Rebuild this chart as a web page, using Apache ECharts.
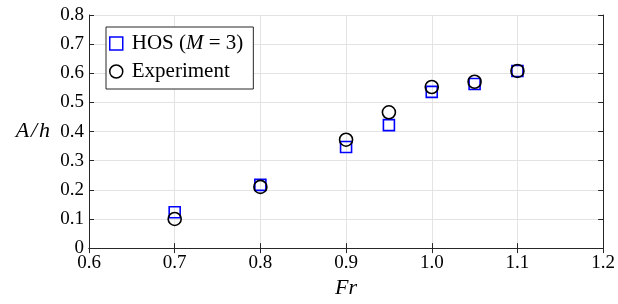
<!DOCTYPE html>
<html>
<head>
<meta charset="utf-8">
<script src="https://cdn.jsdelivr.net/npm/echarts@6/dist/echarts.min.js"></script>
<style>
  html, body { margin: 0; padding: 0; background: #fff; }
  #chart { width: 618px; height: 304px; }
</style>
</head>
<body>
<div id="chart"></div>
<script>
var frValues = [0.7, 0.8, 0.9, 0.95, 1.0, 1.05, 1.1];
var hosValues = [0.123, 0.217, 0.347, 0.422, 0.536, 0.563, 0.608];
var expValues = [0.100, 0.210, 0.372, 0.466, 0.553, 0.571, 0.608];
var xTicks = ["0.6", "0.7", "0.8", "0.9", "1.0", "1.1", "1.2"];

var chart = echarts.init(document.getElementById("chart"));
var font = "Liberation Serif";

function pairs(xs, ys) {
  return xs.map(function (x, i) { return [x, ys[i]]; });
}

var axisLine = { show: true, lineStyle: { color: "#262626", width: 1 } };
var axisTick = { show: true, inside: true, length: 5, lineStyle: { color: "#262626" } };

var option = {
  animation: false,
  grid: { left: 89, top: 15, right: 13, bottom: 54, containLabel: false },
  xAxis: [
    {
      type: "value", min: 0.6, max: 1.2, interval: 0.1, position: "bottom",
      axisLine: axisLine, axisTick: axisTick,
      axisLabel: {
        margin: 5, fontFamily: font, fontSize: 19, color: "#000",
        formatter: function (v) { return xTicks[Math.round((v - 0.6) * 10)]; }
      },
      splitLine: { show: true, lineStyle: { color: "#e3e3e3" } },
      name: "Fr", nameLocation: "middle", nameGap: 27,
      nameTextStyle: { fontFamily: font, fontSize: 22, fontStyle: "italic", color: "#000" }
    },
    {
      type: "value", min: 0.6, max: 1.2, interval: 0.1, position: "top",
      axisLine: axisLine, axisTick: axisTick, axisLabel: { show: false },
      splitLine: { show: false }
    }
  ],
  yAxis: [
    {
      type: "value", min: 0, max: 0.8, interval: 0.1, position: "left",
      axisLine: axisLine, axisTick: axisTick,
      axisLabel: {
        margin: 5, fontFamily: font, fontSize: 19, color: "#000",
        formatter: function (v) { return v === 0 ? "0" : v.toFixed(1); }
      },
      splitLine: { show: true, lineStyle: { color: "#e3e3e3" } },
      name: "A\u200A/\u200Ah", nameLocation: "middle", nameRotate: 0, nameGap: 39,
      nameTextStyle: { fontFamily: font, fontSize: 22, fontStyle: "italic", color: "#000" }
    },
    {
      type: "value", min: 0, max: 0.8, interval: 0.1, position: "right",
      axisLine: axisLine, axisTick: axisTick, axisLabel: { show: false },
      splitLine: { show: false }
    }
  ],
  legend: {
    orient: "vertical", left: 106, top: 27,
    padding: [6, 10, 7, 3], itemGap: 7, itemWidth: 13, itemHeight: 13,
    backgroundColor: "#fff", borderColor: "#262626", borderWidth: 1, borderRadius: 0,
    textStyle: {
      fontFamily: font, fontSize: 21, color: "#000",
      rich: {
        f: { fontFamily: font, fontSize: 21, color: "#000", padding: [0, 0, 0, 4] },
        n: { fontFamily: font, fontSize: 21, color: "#000" },
        i: { fontFamily: font, fontSize: 21, color: "#000", fontStyle: "italic" }
      }
    },
    formatter: function (name) {
      if (name === "HOS") return "{f|HOS (}{i|M}{n| = 3)}";
      return "{f|" + name + "}";
    },
    data: [
      { name: "HOS", icon: "rect", itemStyle: { color: "rgba(0,0,0,0)", borderColor: "#0000ff", borderWidth: 1.5 } },
      { name: "Experiment", icon: "circle", itemStyle: { color: "rgba(0,0,0,0)", borderColor: "#000", borderWidth: 1.5 } }
    ]
  },
  series: [
    {
      name: "HOS", type: "scatter", symbol: "rect", symbolSize: 11,
      data: pairs(frValues, hosValues),
      itemStyle: { color: "rgba(0,0,0,0)", borderColor: "#0000ff", borderWidth: 1.6, opacity: 1 }
    },
    {
      name: "Experiment", type: "scatter", symbol: "circle", symbolSize: 13,
      data: pairs(frValues, expValues),
      itemStyle: { color: "rgba(0,0,0,0)", borderColor: "#000", borderWidth: 1.6, opacity: 1 }
    }
  ]
};

chart.setOption(option);
window.addEventListener("resize", function () { chart.resize(); });
</script>
</body>
</html>
